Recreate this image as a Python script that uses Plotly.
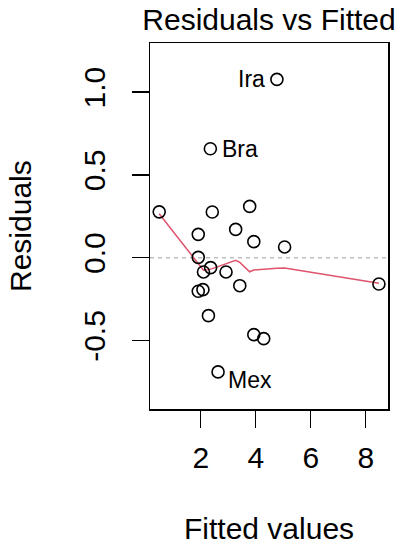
import plotly.graph_objects as go

# Data
fitted = [0.49, 2.42, 3.78, 1.91, 3.27, 3.93, 5.05, 1.91, 8.48, 2.10, 2.36,
          2.92, 3.42, 1.91, 2.08, 2.28, 3.93, 4.29, 4.77, 2.35, 2.63]
residuals = [0.277, 0.276, 0.310, 0.141, 0.171, 0.097, 0.065, 0.002, -0.159,
             -0.086, -0.060, -0.086, -0.169, -0.203, -0.193, -0.350, -0.465,
             -0.489, 1.077, 0.658, -0.690]
point_labels = ["", "", "", "", "", "", "", "", "", "", "",
                "", "", "", "", "", "", "", "Ira", "Bra", "Mex"]

smooth_x = [0.49, 1.91, 2.08, 2.10, 2.28, 2.35, 2.36, 2.42, 2.63, 2.92, 3.27,
            3.42, 3.78, 3.93, 4.29, 4.77, 5.05, 8.48]
smooth_y = [0.265, -0.040, -0.075, -0.076, -0.072, -0.070, -0.070, -0.066,
            -0.054, -0.036, -0.016, -0.028, -0.085, -0.074, -0.068, -0.064,
            -0.062, -0.155]

x_ticks = [2, 4, 6, 8]
y_ticks = [-0.5, 0.0, 0.5, 1.0]
y_tick_text = ["-0.5", "0.0", "0.5", "1.0"]

FONT = "Liberation Sans, Arial, sans-serif"

W, H = 408, 550

fig = go.Figure()

fig.add_trace(go.Scatter(
    x=[0.155, 8.81], y=[0, 0], mode="lines",
    line=dict(color="#BEBEBE", width=1.5, dash="4px,4px"),
    hoverinfo="skip", showlegend=False))

fig.add_trace(go.Scatter(
    x=smooth_x, y=smooth_y, mode="lines",
    line=dict(color="#DF536B", width=1.5),
    showlegend=False))

fig.add_trace(go.Scatter(
    x=fitted, y=residuals, mode="markers",
    marker=dict(symbol="circle-open", size=12, color="black",
                line=dict(width=1.6, color="black")),
    showlegend=False))

# point labels
label_style = {"Ira": ("right", -10, 0), "Bra": ("left", 10, 0), "Mex": ("left", 8, -8)}
for xv, yv, lab in zip(fitted, residuals, point_labels):
    if lab:
        anc, xs, ys = label_style[lab]
        fig.add_annotation(x=xv, y=yv, text=lab, showarrow=False,
                           xanchor=anc, yanchor="middle", xshift=xs, yshift=ys,
                           font=dict(family=FONT, size=23, color="black"))

# axis titles
fig.add_annotation(text="Fitted values", xref="paper", yref="paper",
                   x=0.5, y=0, yshift=-119, showarrow=False,
                   xanchor="center", yanchor="middle",
                   font=dict(family=FONT, size=30, color="black"))
fig.add_annotation(text="Residuals", xref="paper", yref="paper",
                   x=0, y=0.5, xshift=-130, showarrow=False, textangle=-90,
                   xanchor="center", yanchor="middle",
                   font=dict(family=FONT, size=30, color="black"))

axis_common = dict(showgrid=False, zeroline=False, showline=True, mirror=True,
                   linecolor="black", linewidth=1.5, ticks="outside",
                   ticklen=17, tickwidth=1.5, tickcolor="black",
                   tickfont=dict(family=FONT, size=30, color="black"))

fig.update_layout(
    width=W, height=H,
    margin=dict(l=150, r=20, t=43, b=141),
    paper_bgcolor="white", plot_bgcolor="white",
    title=dict(text="Residuals vs Fitted", x=0.5, xanchor="center", xref="paper",
               y=1 - 19 / H, yanchor="middle", yref="container",
               font=dict(family=FONT, size=30, color="black")),
    xaxis=dict(range=[0.155, 8.81], tickvals=x_ticks, ticklabelstandoff=4,
               **axis_common),
    yaxis=dict(range=[-0.914, 1.297], tickvals=y_ticks, ticktext=y_tick_text,
               tickangle=-90, ticklabelstandoff=15, **axis_common),
    showlegend=False,
    hovermode=False,
)

fig.write_html("out.html",
               config={"displayModeBar": False, "staticPlot": True},
               post_script="document.body.style.margin='0';")
